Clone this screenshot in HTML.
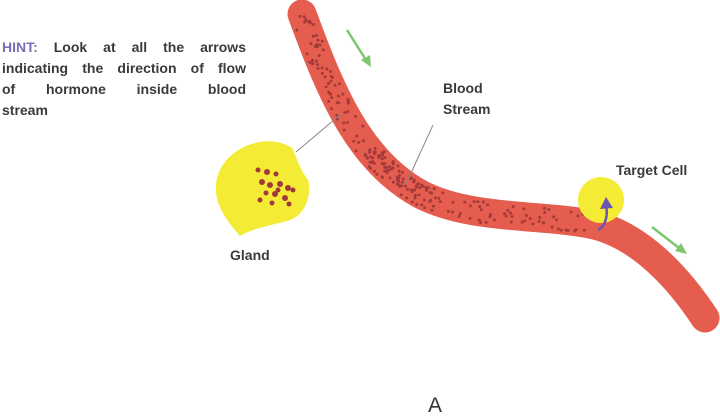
<!DOCTYPE html>
<html><head><meta charset="utf-8"><style>
body{margin:0;width:720px;height:415px;background:#fff;overflow:hidden;position:relative;font-family:"Liberation Sans",sans-serif;color:#333}
.t{position:absolute;font-size:14px;line-height:21px;font-weight:bold;color:#3a3a3a}
.j{text-align:justify;text-align-last:justify;width:244px;height:21px}
</style></head><body>
<svg width="720" height="415" style="position:absolute;left:0;top:0">
<path id="v" d="M302,14 C330,90 358,160 420,194 C470,220 540,214 590,224 C640,234 680,280 705,318" fill="none" stroke="#e55d4f" stroke-width="29" stroke-linecap="round"/>
<g id="dots" fill="#a33a3a"></g>
<path d="M216,185 C218,150 265,130 292,148 C298,160 300,170 308,180 C312,195 305,215 290,220 C275,225 255,227 240,236 C228,222 214,205 216,185Z" fill="#f4ec34"/>
<g fill="#a33a3a">
<circle cx="258" cy="170" r="2.5"/><circle cx="267" cy="172" r="3"/><circle cx="276" cy="174" r="2.5"/><circle cx="262" cy="182" r="3"/><circle cx="270" cy="185" r="3"/><circle cx="280" cy="184" r="3"/><circle cx="288" cy="188" r="3"/><circle cx="266" cy="193" r="2.5"/><circle cx="275" cy="194" r="3"/><circle cx="285" cy="198" r="3"/><circle cx="260" cy="200" r="2.5"/><circle cx="272" cy="203" r="2.5"/><circle cx="289" cy="204" r="2.5"/><circle cx="293" cy="190" r="2.5"/><circle cx="278" cy="190" r="2.5"/>
</g>
<circle cx="601" cy="200" r="23" fill="#f4ec34"/>
<path d="M598,230 C606,226 608,215 606,205" fill="none" stroke="#6a55b0" stroke-width="2.5"/>
<polygon points="606,197 600,209 613,208" fill="#6a55b0"/>
<g stroke="#7dc66e" stroke-width="2.5" fill="#7dc66e">
<line x1="347" y1="30" x2="366" y2="60"/><polygon points="371,67 361,60 370,55" stroke="none"/>
<line x1="652" y1="227" x2="679" y2="248"/><polygon points="687,254 675,251 681,243" stroke="none"/>
</g>
<line x1="296" y1="152" x2="341" y2="114" stroke="#888" stroke-width="1"/>
<line x1="433" y1="125" x2="406" y2="184" stroke="#888" stroke-width="1"/>
</svg>
<div class="t" style="left:2px;top:37px;width:244px">
<div class="j"><span style="color:#7d6ab8">HINT:</span> Look at all the arrows</div>
<div class="j">indicating the direction of flow</div>
<div class="j">of hormone inside blood</div>
<div>stream</div>
</div>
<div class="t" style="left:443px;top:78px">Blood<br>Stream</div>
<div class="t" style="left:616px;top:160px">Target Cell</div>
<div class="t" style="left:230px;top:245px">Gland</div>
<div style="position:absolute;left:428px;top:394px;font-size:21px;color:#333">A</div>
<script>
(function(){var p=document.getElementById('v'),g=document.getElementById('dots'),L=p.getTotalLength(),s=7;
function r(){s=(s*9301+49297)%233280;return s/233280;}
for(var i=0;i<230;i++){var t=r();t=t*0.72;if(r()<0.3)t=0.28+r()*0.15;var d=t*L;var a=p.getPointAtLength(d),b=p.getPointAtLength(Math.min(L,d+1));var dx=b.x-a.x,dy=b.y-a.y,n=Math.hypot(dx,dy)||1;var o=(r()-0.5)*22;var c=document.createElementNS('http://www.w3.org/2000/svg','circle');c.setAttribute('cx',a.x-dy/n*o);c.setAttribute('cy',a.y+dx/n*o);c.setAttribute('r',1.5);g.appendChild(c);}
})();
</script>
</body></html>
